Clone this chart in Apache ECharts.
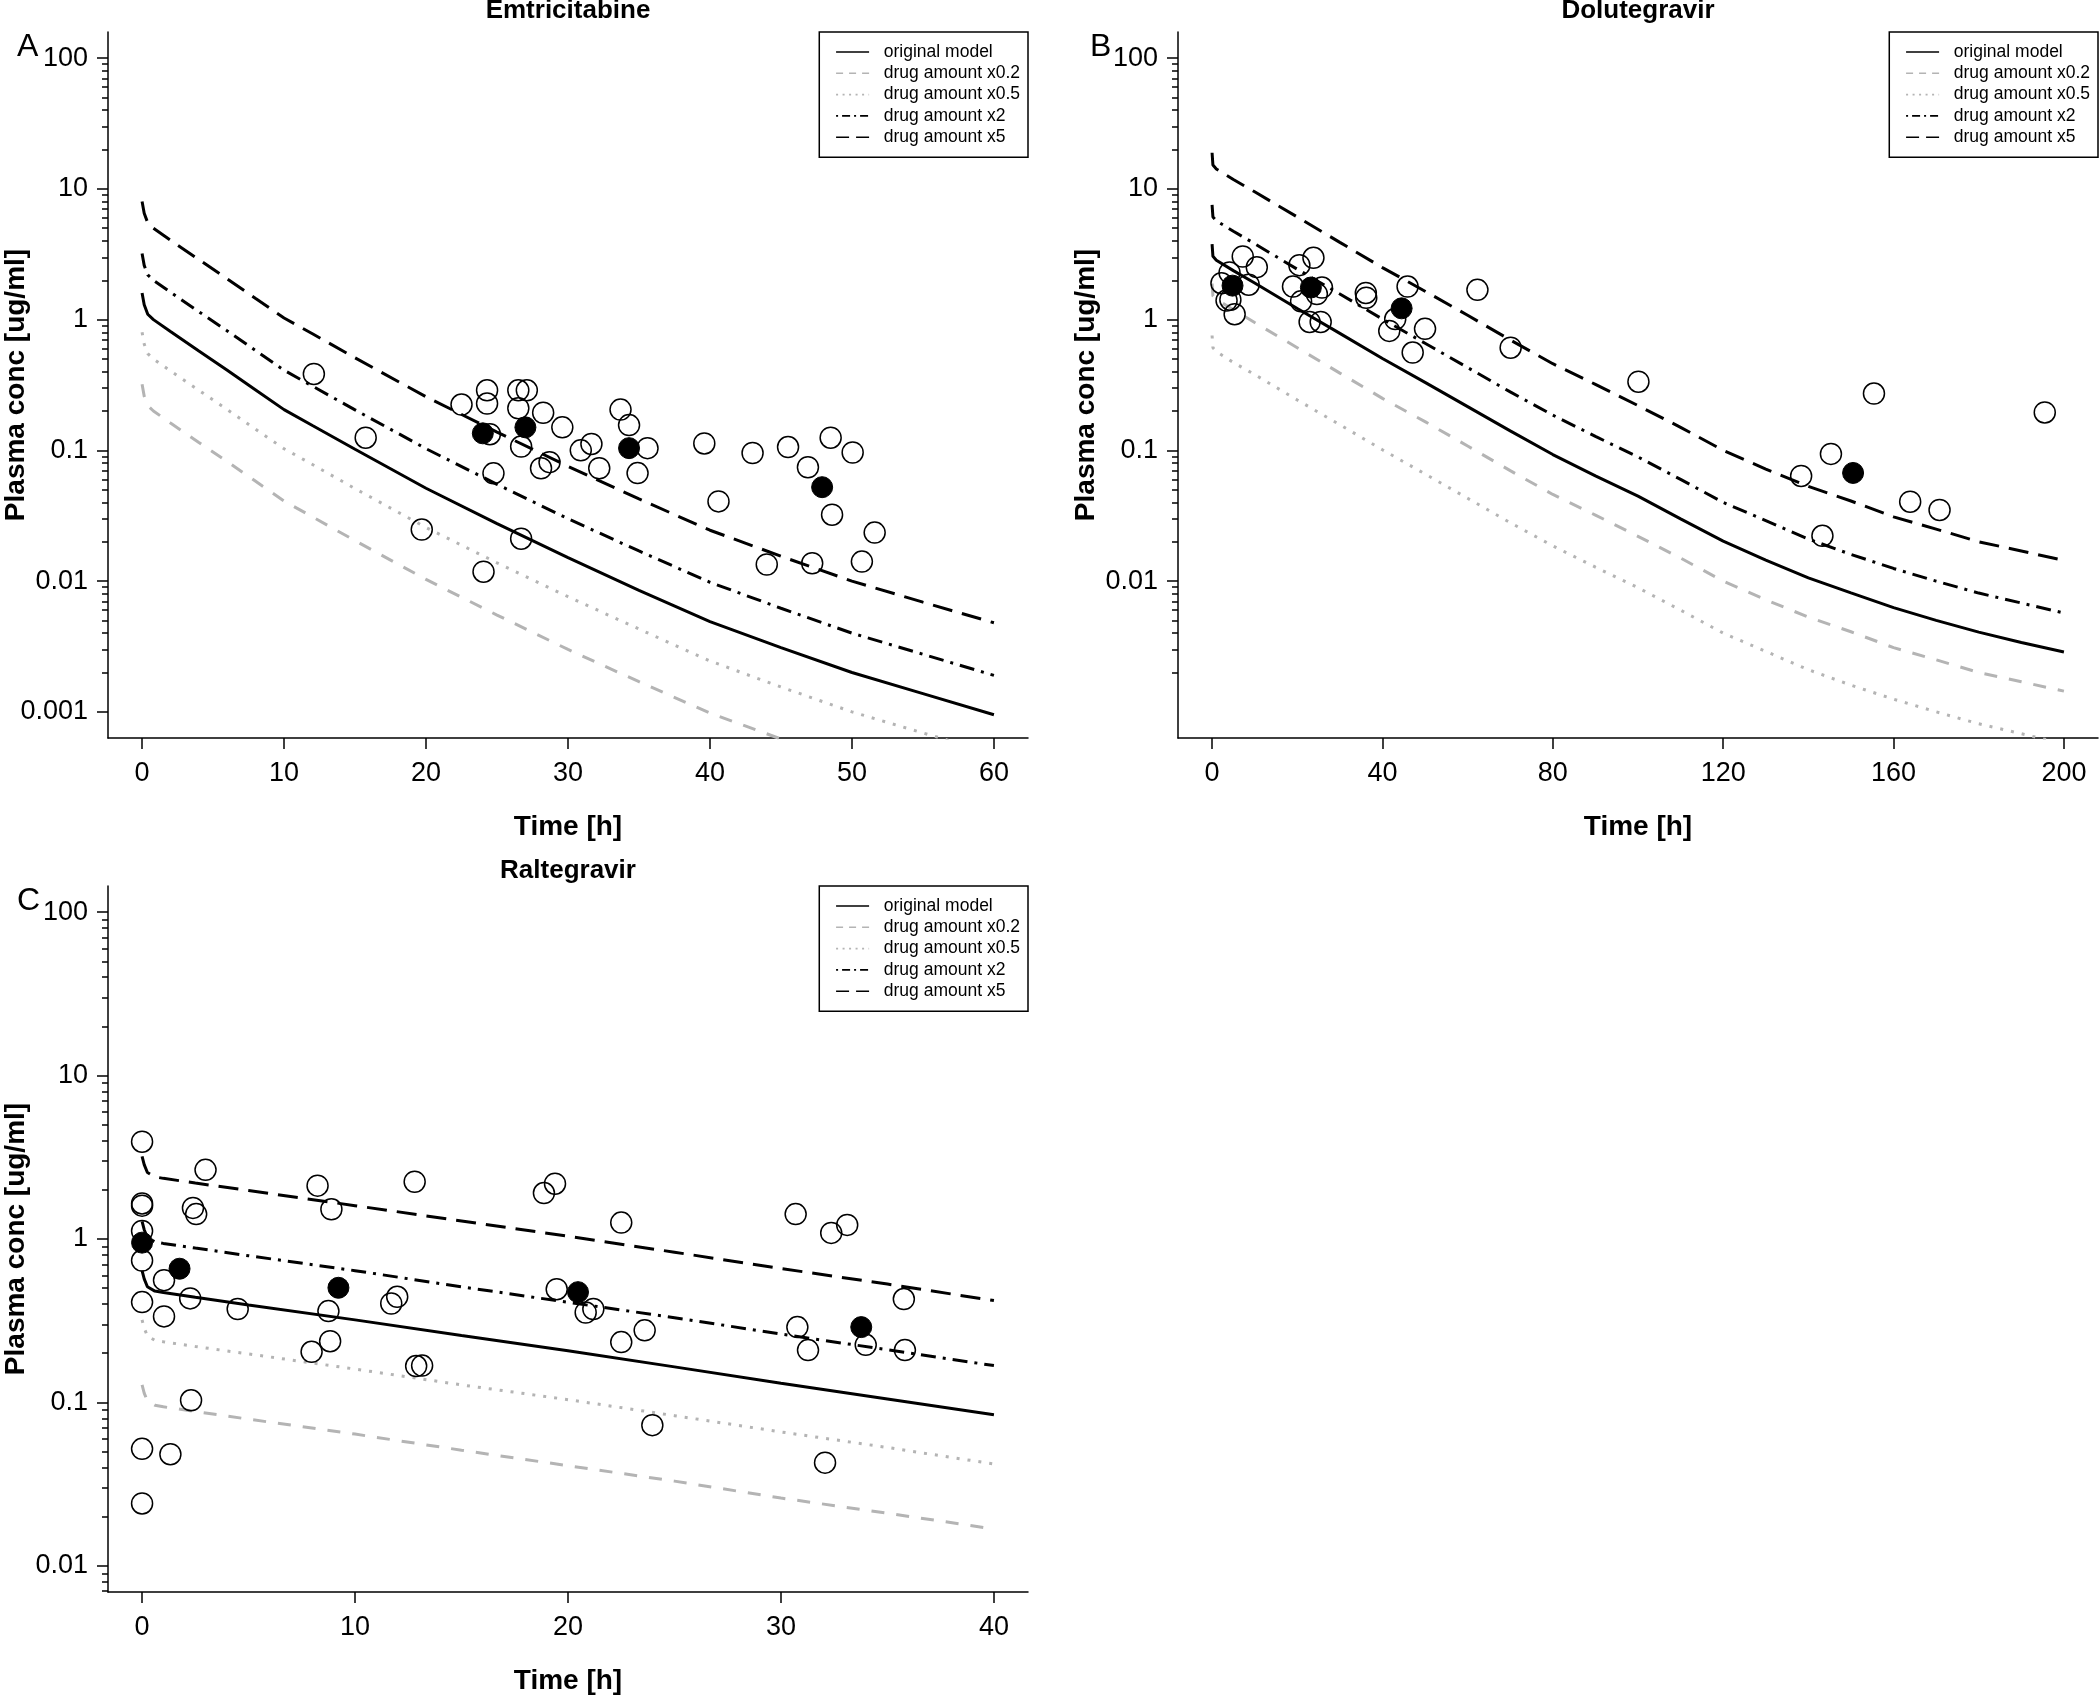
<!DOCTYPE html>
<html>
<head>
<meta charset="utf-8">
<script src="https://cdn.jsdelivr.net/npm/echarts@6/dist/echarts.min.js"></script>
<style>
html,body{margin:0;padding:0;background:#fff;}
#chart{width:2100px;height:1698px;}
</style>
</head>
<body>
<div id="chart"></div>
<script>
// ---------------- Panel A: Emtricitabine ----------------
const emtTime     = [0, 0.15, 0.4, 0.8, 2, 4, 6, 8, 10, 12, 15, 20, 25, 30, 35, 40, 45, 50, 55, 60];
const emtOriginal = [1.6, 1.3, 1.1, 1.0, 0.81, 0.575, 0.41, 0.29, 0.205, 0.155, 0.102, 0.0513, 0.0275, 0.0151, 0.0085, 0.0049, 0.0031, 0.0020, 0.00138, 0.00095];
const emtX02      = [0.32, 0.26, 0.22, 0.2, 0.162, 0.115, 0.082, 0.058, 0.041, 0.031, 0.0204, 0.0103, 0.0055, 0.0030, 0.0017, 0.00098, 0.00062, 0.0004, 0.00028, 0.00019];
const emtX05      = [0.8, 0.65, 0.55, 0.5, 0.405, 0.288, 0.205, 0.145, 0.103, 0.078, 0.051, 0.0257, 0.0138, 0.0076, 0.0043, 0.00245, 0.00155, 0.0010, 0.00069, 0.00048];
const emtX2       = [3.2, 2.6, 2.2, 2.0, 1.62, 1.15, 0.82, 0.58, 0.41, 0.31, 0.204, 0.103, 0.055, 0.030, 0.017, 0.0098, 0.0062, 0.0040, 0.00276, 0.0019];
const emtX5       = [8.0, 6.5, 5.5, 5.0, 4.05, 2.88, 2.05, 1.45, 1.03, 0.78, 0.51, 0.257, 0.138, 0.0755, 0.0425, 0.0245, 0.0155, 0.010, 0.0069, 0.0048];
const emtObsTime  = [12.1, 15.75, 19.7, 22.5, 24.3, 24.3, 24.5, 24.75, 24.05, 26.5, 27.1, 26.5, 26.7, 26.7, 28.25, 28.1, 28.7, 29.6, 30.9, 31.65, 32.2, 33.7, 34.3, 34.9, 35.6, 39.6, 40.6, 43.0, 44.0, 45.5, 46.9, 47.2, 48.5, 48.6, 50.05, 50.7, 51.6];
const emtObsConc  = [0.384, 0.125, 0.0248, 0.224, 0.288, 0.228, 0.133, 0.0667, 0.0118, 0.288, 0.288, 0.21, 0.107, 0.0211, 0.194, 0.073, 0.0813, 0.15, 0.1, 0.112, 0.073, 0.205, 0.156, 0.067, 0.104, 0.113, 0.0407, 0.0955, 0.0134, 0.106, 0.0743, 0.0137, 0.125, 0.0322, 0.0963, 0.0141, 0.0235];
const emtMedTime  = [24.0, 27.0, 34.3, 47.9];
const emtMedConc  = [0.135, 0.15, 0.104, 0.0523];

// ---------------- Panel B: Dolutegravir ----------------
const dolTime     = [0, 0.2, 1, 5, 10, 20, 30, 40, 50, 60, 70, 80, 90, 100, 110, 120, 130, 140, 150, 160, 170, 180, 190, 200];
const dolOriginal = [3.78, 3.05, 2.85, 2.37, 1.905, 1.216, 0.785, 0.504, 0.331, 0.216, 0.141, 0.0929, 0.0638, 0.0447, 0.0299, 0.0202, 0.01445, 0.01059, 0.00813, 0.00627, 0.00501, 0.00407, 0.00339, 0.00287];
// grey dashed line as drawn in panel B (upper grey curve)
const dolX02      = [1.89, 1.52, 1.43, 1.19, 0.95, 0.61, 0.39, 0.25, 0.166, 0.108, 0.070, 0.046, 0.032, 0.022, 0.015, 0.010, 0.0072, 0.0053, 0.0041, 0.0031, 0.0025, 0.0020, 0.0017, 0.00144];
// grey dotted line as drawn in panel B (lower grey curve)
const dolX05      = [0.756, 0.61, 0.57, 0.47, 0.38, 0.243, 0.157, 0.101, 0.066, 0.043, 0.028, 0.0186, 0.0128, 0.0089, 0.0060, 0.0040, 0.0029, 0.0021, 0.0016, 0.00125, 0.0010, 0.00081, 0.00068, 0.00057];
const dolX2       = [7.56, 6.1, 5.7, 4.74, 3.81, 2.43, 1.57, 1.01, 0.66, 0.43, 0.28, 0.186, 0.128, 0.089, 0.060, 0.040, 0.029, 0.021, 0.016, 0.0125, 0.010, 0.0081, 0.0068, 0.0057];
const dolX5       = [18.9, 15.2, 14.2, 11.8, 9.5, 6.1, 3.9, 2.5, 1.65, 1.08, 0.70, 0.46, 0.32, 0.22, 0.15, 0.10, 0.072, 0.053, 0.041, 0.031, 0.025, 0.020, 0.017, 0.0144];
const dolObsTime  = [7.2, 10.5, 4.1, 2.2, 8.6, 3.4, 4.3, 5.3, 20.5, 23.8, 19.0, 25.8, 24.6, 20.9, 22.9, 25.5, 36.1, 36.2, 45.9, 43.0, 41.6, 50.0, 47.1, 62.3, 70.1, 100.1, 155.4, 195.5, 145.3, 138.3, 163.9, 170.8, 143.3];
const dolObsConc  = [3.04, 2.52, 2.29, 1.9, 1.85, 1.40, 1.42, 1.10, 2.61, 2.97, 1.79, 1.76, 1.57, 1.38, 0.96, 0.96, 1.60, 1.47, 1.79, 1.01, 0.82, 0.85, 0.56, 1.69, 0.61, 0.335, 0.272, 0.195, 0.094, 0.0637, 0.0405, 0.035, 0.0222];
const dolMedTime  = [4.8, 23.2, 44.5, 150.5];
const dolMedConc  = [1.82, 1.76, 1.22, 0.0672];

// ---------------- Panel C: Raltegravir ----------------
const ralTime     = [0, 0.1, 0.25, 0.6, 1, 2.5, 5, 10, 15, 20, 25, 30, 35, 40];
const ralOriginal = [0.64, 0.57, 0.51, 0.48, 0.47, 0.44, 0.395, 0.32, 0.257, 0.207, 0.165, 0.131, 0.105, 0.084];
const ralX02      = [0.128, 0.114, 0.102, 0.096, 0.094, 0.088, 0.079, 0.064, 0.051, 0.041, 0.033, 0.026, 0.021, 0.0168];
const ralX05      = [0.32, 0.285, 0.255, 0.24, 0.235, 0.22, 0.198, 0.16, 0.128, 0.104, 0.083, 0.066, 0.053, 0.042];
const ralX2       = [1.28, 1.14, 1.02, 0.96, 0.94, 0.88, 0.79, 0.64, 0.51, 0.41, 0.33, 0.262, 0.21, 0.168];
const ralX5       = [3.2, 2.85, 2.55, 2.4, 2.35, 2.2, 1.98, 1.6, 1.29, 1.04, 0.83, 0.66, 0.53, 0.42];
const ralObsTime  = [0, 0, 0, 0, 0, 0, 0, 0, 1.03, 1.03, 1.33, 2.3, 2.26, 2.39, 2.54, 2.98, 4.49, 8.24, 8.89, 8.75, 8.83, 7.96, 11.7, 11.98, 12.87, 13.15, 12.8, 18.87, 19.39, 22.5, 19.47, 21.19, 20.83, 23.6, 22.5, 23.96, 30.69, 33.11, 32.36, 30.77, 31.27, 33.98, 35.77, 35.82, 32.07];
const ralObsConc  = [3.94, 1.65, 1.60, 1.12, 0.738, 0.411, 0.052, 0.0241, 0.56, 0.336, 0.0482, 0.103, 0.433, 1.55, 1.42, 2.65, 0.373, 2.12, 1.52, 0.362, 0.237, 0.204, 0.403, 0.443, 0.167, 0.168, 2.24, 1.91, 2.18, 1.26, 0.493, 0.373, 0.355, 0.276, 0.234, 0.0726, 1.42, 1.22, 1.09, 0.289, 0.209, 0.225, 0.429, 0.209, 0.0428];
const ralMedTime  = [0, 1.76, 9.22, 20.47, 33.77];
const ralMedConc  = [0.95, 0.658, 0.503, 0.473, 0.289];

// ---------------- Ticks & labels ----------------
const xTicksA = [0, 10, 20, 30, 40, 50, 60];
const xTicksB = [0, 40, 80, 120, 160, 200];
const xTicksC = [0, 10, 20, 30, 40];
const yMajorA = [0.001, 0.01, 0.1, 1, 10, 100];
const yMajorB = [0.01, 0.1, 1, 10, 100];
const yMajorC = [0.01, 0.1, 1, 10, 100];
const yMinor  = [0.002, 0.003, 0.004, 0.005, 0.006, 0.007, 0.008, 0.009,
                 0.02, 0.03, 0.04, 0.05, 0.06, 0.07, 0.08, 0.09,
                 0.2, 0.3, 0.4, 0.5, 0.6, 0.7, 0.8, 0.9,
                 2, 3, 4, 5, 6, 7, 8, 9,
                 20, 30, 40, 50, 60, 70, 80, 90];
const legendNames = ['original model', 'drug amount x0.2', 'drug amount x0.5', 'drug amount x2', 'drug amount x5'];
const panelTitles = ['Emtricitabine', 'Dolutegravir', 'Raltegravir'];
const panelLetters = ['A', 'B', 'C'];
const xTitle = 'Time [h]';
const yTitle = 'Plasma conc [ug/ml]';

// ---------------- Styling / layout ----------------
const FONT = '"Liberation Sans", Arial, Helvetica, sans-serif';
const GREY = '#b4b4b4';
const seriesStyle = {
  'original model':   { color: '#000', type: 'solid' },
  'drug amount x0.2': { color: GREY,   type: [13, 12] },
  'drug amount x0.5': { color: GREY,   type: [3, 8] },
  'drug amount x2':   { color: '#000', type: [15, 7, 3, 7] },
  'drug amount x5':   { color: '#000', type: [20, 10] }
};
const legendStyle = {
  'original model':   'solid',
  'drug amount x0.2': [7, 6],
  'drug amount x0.5': [2, 4.5],
  'drug amount x2':   [2, 4, 8, 4],
  'drug amount x5':   [13, 7]
};

const panels = [
  { grid: { left: 108, top: 32, width: 920, height: 706 }, xMin: -2.4, xMax: 62.4,
    yMin: 0.000630957, yMax: 158.489, xTicks: xTicksA, yMajor: yMajorA,
    time: emtTime, curves: [emtOriginal, emtX02, emtX05, emtX2, emtX5],
    obsT: emtObsTime, obsC: emtObsConc, medT: emtMedTime, medC: emtMedConc,
    legendRight: 1072, titleX: 568, titleY: 11, letterX: 17, letterY: 47 },
  { grid: { left: 1178, top: 32, width: 920, height: 706 }, xMin: -8, xMax: 208,
    yMin: 0.000630957, yMax: 158.489, xTicks: xTicksB, yMajor: yMajorB,
    time: dolTime, curves: [dolOriginal, dolX02, dolX05, dolX2, dolX5],
    obsT: dolObsTime, obsC: dolObsConc, medT: dolMedTime, medC: dolMedConc,
    legendRight: 2, titleX: 1638, titleY: 11, letterX: 1090, letterY: 47 },
  { grid: { left: 108, top: 886, width: 920, height: 706 }, xMin: -1.6, xMax: 41.6,
    yMin: 0.0069183, yMax: 144.544, xTicks: xTicksC, yMajor: yMajorC,
    time: ralTime, curves: [ralOriginal, ralX02, ralX05, ralX2, ralX5],
    obsT: ralObsTime, obsC: ralObsConc, medT: ralMedTime, medC: ralMedConc,
    legendRight: 1072, titleX: 568, titleY: 871, letterX: 17, letterY: 901 }
];

function pairs(xs, ys) { return xs.map((x, i) => [x, ys[i]]); }
function fmtLog(v) { return String(+Number(v).toPrecision(3)); }

const axisLineStyle = { color: '#000', width: 1.5 };
const grids = [], xAxes = [], yAxes = [], series = [], legends = [], titles = [];

panels.forEach((p, k) => {
  grids.push(Object.assign({ containLabel: false, outerBoundsMode: 'none' }, p.grid));
  xAxes.push({
    gridIndex: k, type: 'value', min: p.xMin, max: p.xMax,
    axisLine: { show: true, onZero: false, lineStyle: axisLineStyle },
    axisTick: { show: true, customValues: p.xTicks, length: 11, inside: false, lineStyle: axisLineStyle },
    axisLabel: { show: true, customValues: p.xTicks, margin: 22, color: '#000', fontSize: 27, fontFamily: FONT },
    splitLine: { show: false },
    name: xTitle, nameLocation: 'middle', nameGap: 75, nameMoveOverlap: false,
    nameTextStyle: { color: '#000', fontSize: 28, fontWeight: 'bold', fontFamily: FONT }
  });
  yAxes.push({
    gridIndex: k, type: 'log', logBase: 10, min: p.yMin, max: p.yMax, position: 'left',
    axisLine: { show: true, onZero: false, lineStyle: axisLineStyle },
    axisTick: { show: true, customValues: p.yMajor, length: 11, inside: false, lineStyle: axisLineStyle },
    axisLabel: { show: true, customValues: p.yMajor, margin: 20, color: '#000', fontSize: 27, fontFamily: FONT, formatter: fmtLog },
    splitLine: { show: false },
    name: yTitle, nameLocation: 'middle', nameGap: 78, nameRotate: 90, nameMoveOverlap: false,
    nameTextStyle: { color: '#000', fontSize: 28, fontWeight: 'bold', fontFamily: FONT }
  });
  yAxes.push({
    gridIndex: k, type: 'log', logBase: 10, min: p.yMin, max: p.yMax, position: 'left', offset: 0,
    axisLine: { show: false, onZero: false },
    axisTick: { show: true, customValues: yMinor, length: 6, inside: false, lineStyle: axisLineStyle },
    axisLabel: { show: false },
    splitLine: { show: false }
  });
  legendNames.forEach((name, i) => {
    const st = seriesStyle[name];
    series.push({
      type: 'line', name: name, xAxisIndex: k, yAxisIndex: 2 * k,
      data: pairs(p.time, p.curves[i]),
      symbol: 'none', showSymbol: false, smooth: false, clip: true, silent: true, z: 2,
      itemStyle: { color: st.color },
      lineStyle: { color: st.color, width: 3, type: st.type, cap: 'butt' }
    });
  });
  series.push({
    type: 'scatter', name: 'observed', xAxisIndex: k, yAxisIndex: 2 * k,
    data: pairs(p.obsT, p.obsC), symbol: 'circle', symbolSize: 21, clip: true, silent: true, z: 3,
    itemStyle: { color: 'rgba(0,0,0,0)', borderColor: '#000', borderWidth: 1.5, opacity: 1 }
  });
  series.push({
    type: 'scatter', name: 'median', xAxisIndex: k, yAxisIndex: 2 * k,
    data: pairs(p.medT, p.medC), symbol: 'circle', symbolSize: 21, clip: true, silent: true, z: 4,
    itemStyle: { color: '#000', borderColor: '#000', borderWidth: 1, opacity: 1 }
  });
  legends.push({
    orient: 'vertical', right: p.legendRight, top: p.grid.top,
    itemWidth: 33, itemHeight: 12, itemGap: 3.3, padding: [11, 8, 11, 16],
    borderColor: '#000', borderWidth: 1.5, backgroundColor: '#fff', borderRadius: 0,
    selectedMode: false, itemStyle: { opacity: 0 },
    textStyle: { color: '#000', fontSize: 17.5, lineHeight: 18, fontFamily: FONT },
    formatter: (n) => '\u00a0\u00a0' + n,
    data: legendNames.map(n => ({ name: n, lineStyle: { width: 1.6, type: legendStyle[n] } }))
  });
  titles.push({
    text: panelTitles[k], left: p.titleX, top: p.titleY, textAlign: 'center', textVerticalAlign: 'middle', padding: 0,
    textStyle: { color: '#000', fontSize: 26, fontWeight: 'bold', fontFamily: FONT }
  });
  titles.push({
    text: panelLetters[k], left: p.letterX, top: p.letterY, textAlign: 'left', textVerticalAlign: 'middle', padding: 0,
    textStyle: { color: '#000', fontSize: 32, fontWeight: 'normal', fontFamily: FONT }
  });
});

const chart = echarts.init(document.getElementById('chart'), null, { renderer: 'canvas' });
chart.setOption({
  backgroundColor: '#fff',
  animation: false,
  title: titles,
  legend: legends,
  grid: grids,
  xAxis: xAxes,
  yAxis: yAxes,
  tooltip: { show: false },
  series: series
});
</script>
</body>
</html>
